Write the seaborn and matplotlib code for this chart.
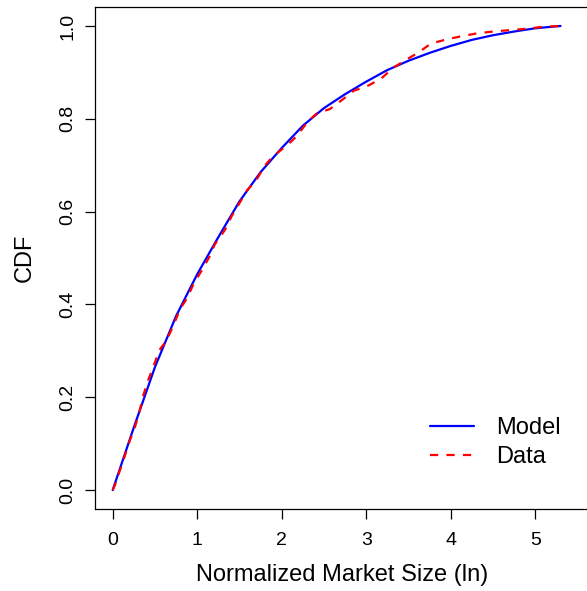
import matplotlib
matplotlib.use("Agg")
import matplotlib.pyplot as plt
import seaborn as sns
import pandas as pd

model_x = [0.0, 0.25, 0.5, 0.75, 1.0, 1.25, 1.5, 1.75, 2.0, 2.25, 2.5, 2.75, 3.0,
           3.25, 3.5, 3.75, 4.0, 4.25, 4.5, 4.75, 5.0, 5.3]
model_y = [0.0, 0.135, 0.265, 0.375, 0.465, 0.545, 0.622, 0.685, 0.737, 0.785, 0.823, 0.853, 0.880,
           0.905, 0.925, 0.942, 0.957, 0.970, 0.980, 0.988, 0.995, 1.0]

data_x = [0.0, 0.027, 0.086, 0.146, 0.205, 0.264, 0.315, 0.362, 0.42, 0.48, 0.55, 0.64, 0.725, 0.80,
          0.876, 0.954, 1.053, 1.143, 1.21, 1.33, 1.41, 1.49, 1.586, 1.70, 1.80, 1.90, 2.06, 2.18,
          2.30, 2.41, 2.57, 2.71, 2.85, 3.03, 3.18, 3.32, 3.48, 3.62, 3.765, 3.95, 4.13, 4.31, 4.50,
          4.70, 4.90, 5.08, 5.30]
data_y = [0.0, 0.011, 0.043, 0.075, 0.108, 0.136, 0.168, 0.204, 0.237, 0.265, 0.301, 0.323, 0.358, 0.391,
          0.412, 0.443, 0.473, 0.502, 0.530, 0.561, 0.591, 0.615, 0.645, 0.668, 0.699, 0.720, 0.742, 0.763,
          0.792, 0.811, 0.821, 0.840, 0.860, 0.872, 0.887, 0.910, 0.928, 0.943, 0.962, 0.971, 0.978, 0.984, 0.988,
          0.991, 0.994, 0.998, 1.0]

x_ticks = [0, 1, 2, 3, 4, 5]
y_ticks = [0.0, 0.2, 0.4, 0.6, 0.8, 1.0]

sns.set_style("white")
plt.rcParams['font.family'] = ['Liberation Sans', 'DejaVu Sans']
plt.rcParams['text.color'] = 'black'
plt.rcParams['axes.labelcolor'] = 'black'
plt.rcParams['xtick.color'] = 'black'
plt.rcParams['ytick.color'] = 'black'

W, H = 587, 591
fig = plt.figure(figsize=(W / 100, H / 100), dpi=100)
left_px, right_px, top_px, bot_px = 94.8, 590.0, 7.4, 508.6
ax = fig.add_axes([left_px / W, (H - bot_px) / H, (right_px - left_px) / W, (bot_px - top_px) / H])

dm = pd.DataFrame({"x": model_x, "y": model_y})
dd = pd.DataFrame({"x": data_x, "y": data_y})
sns.lineplot(data=dm, x="x", y="y", ax=ax, color="#0000FF", lw=1.6, sort=False,
             estimator=None, label="Model")
sns.lineplot(data=dd, x="x", y="y", ax=ax, color="#FF0000", lw=1.6, sort=False,
             estimator=None, label="Data", linestyle=(0, (3.7, 3.7)))

ax.set_xlim(-0.212, (right_px - 112.7) / 84.5)
ax.set_ylim(-0.04, 1.04)
ax.set_xticks(x_ticks)
ax.set_xticklabels([str(t) for t in x_ticks])
ax.set_yticks(y_ticks)
ax.set_yticklabels([f"{t:.1f}" for t in y_ticks], rotation=90, va="center")
ax.tick_params(direction="out", length=7, width=0.9, colors="black", labelsize=14,
               left=True, bottom=True)
ax.tick_params(axis="x", pad=9.5)
ax.tick_params(axis="y", pad=6.5)
for s in ax.spines.values():
    s.set_color("black")
    s.set_linewidth(0.9)
ax.set_xlabel("Normalized Market Size (ln)", fontsize=17, labelpad=10.9)
ax.set_ylabel("CDF", fontsize=17, labelpad=16.5)

leg = ax.legend(loc="upper left", bbox_to_anchor=(430 / W, (H - 417) / H),
                bbox_transform=fig.transFigure, frameon=False, borderpad=0,
                borderaxespad=0, handlelength=1.88, handletextpad=0.9,
                labelspacing=0.31, fontsize=17)

fig.savefig("out.png", dpi=100)
